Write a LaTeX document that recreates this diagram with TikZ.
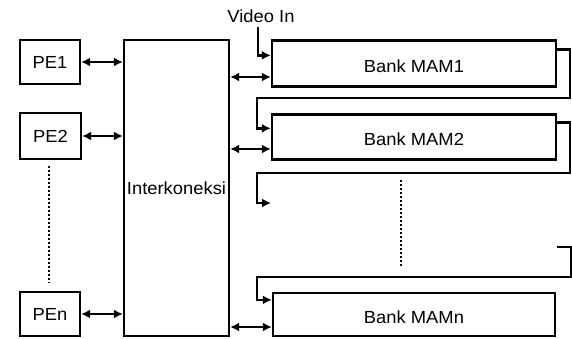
\documentclass[tikz,border=0pt]{standalone}
\usepackage{fontspec}
\setmainfont{Liberation Sans}[FakeStretch=1.05]
\usetikzlibrary{arrows.meta}
\begin{document}
\begin{tikzpicture}[x=1pt,y=-1pt,
  box/.style={draw,line width=2.3pt,rectangle,inner sep=0pt,font=\fontsize{17.5}{20}\selectfont},
  bank/.style={box,text height=17pt,text depth=0pt},
  conn/.style={line width=2.3pt},
  arr/.style={conn,-{Latex[length=9pt,width=9pt]}},
  dbl/.style={conn,{Latex[length=9pt,width=9pt]}-{Latex[length=9pt,width=9pt]}},
  dots/.style={line width=2.3pt,dash pattern=on 1.5pt off 2.5pt},
  lbl/.style={font=\fontsize{17.5}{20}\selectfont,inner sep=0pt}]
\useasboundingbox (0,0) rectangle (572,338);
% processing elements
\node[box,minimum width=60pt,minimum height=44pt] (pe1) at (50,62) {PE1};
\node[box,minimum width=61pt,minimum height=46pt] (pe2) at (50.5,136) {PE2};
\node[box,minimum width=60pt,minimum height=44pt] (pen) at (50,314) {PEn};
% interconnect
\node[box,minimum width=105pt,minimum height=296pt] (inter) at (176.5,188) {Interkoneksi};
% memory banks
\node[bank,minimum width=284pt,minimum height=46pt] (mam1) at (414,63.5) {Bank MAM1};
\node[bank,minimum width=284pt,minimum height=45pt] (mam2) at (414,137) {Bank MAM2};
\node[bank,minimum width=282pt,minimum height=43pt] (mamn) at (414,314.5) {Bank MAMn};
% video in
\node[lbl] (vin) at (261,16) {Video In};
\draw[arr] ([xshift=-3pt,yshift=-4pt]vin.south) |- ([yshift=-16pt]mam1.north west);
% PE <-> interconnect
\draw[dbl] (pe1.east) -- (inter.west |- pe1.east);
\draw[dbl] (pe2.east) -- (inter.west |- pe2.east);
\draw[dbl] (pen.east) -- (inter.west |- pen.east);
% interconnect <-> banks
\draw[dbl] (inter.east |- 0,77) -- (mam1.west |- 0,77);
\draw[dbl] (inter.east |- 0,149) -- (mam2.west |- 0,149);
\draw[dbl] (inter.east |- 0,327) -- (mamn.west |- 0,327);
% chain connectors
\coordinate (k1) at (257,98);
\draw[arr] ([yshift=-10pt]mam1.north east) -- ++(13pt,0) |- (k1) |- ([yshift=-15pt]mam2.north west);
\coordinate (k2) at (257,173);
\coordinate (k3) at (271,203);
\draw[arr] ([yshift=-9pt]mam2.north east) -- ++(13pt,0) |- (k2) |- (k3);
\coordinate (k4) at (557,247);
\coordinate (k5) at (257,277);
\draw[arr] (k4) -- ++(14pt,0) |- (k5) |- ([yshift=-8pt]mamn.north west);
% dotted continuation marks
\coordinate (d1) at (49,166);
\coordinate (d2) at (49,283);
\draw[dots] (d1) -- (d2);
\coordinate (d3) at (401,180);
\coordinate (d4) at (401,267);
\draw[dots] (d3) -- (d4);
\end{tikzpicture}
\end{document}
